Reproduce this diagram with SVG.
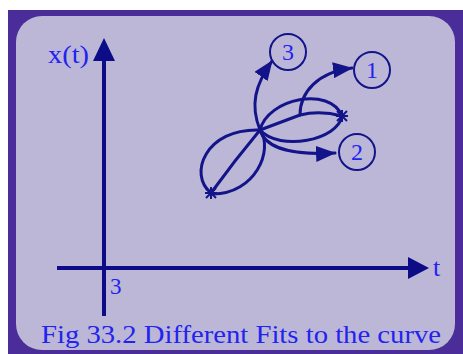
<svg xmlns="http://www.w3.org/2000/svg" width="463" height="354" viewBox="0 0 463 354">
<defs>
<style>
.ln{fill:none;stroke:#14148a;stroke-width:3;stroke-linecap:round}
.ax{fill:none;stroke:#0c0c86;stroke-width:4}
.ah{fill:#0c0c86}
.lbl{fill:#2323f0;font-family:"Liberation Serif",serif}
.nd{fill:none;stroke:#14148a;stroke-width:2}
.star{fill:none;stroke:#14148a;stroke-width:2}
</style>
<marker id="arr" viewBox="0 0 20 16" refX="19" refY="8" markerWidth="20" markerHeight="16" markerUnits="userSpaceOnUse" orient="auto">
<path d="M0,0 L20,8 L0,16 Z" fill="#14148a"/>
</marker>
</defs>
<rect x="8" y="10" width="455" height="344" fill="#4a2d99"/>
<rect x="16" y="16" width="439" height="334" rx="26" ry="26" fill="#bcb7d6"/>
<g id="axes">
<line class="ax" x1="104" y1="316" x2="104" y2="58"/>
<polygon class="ah" points="104,38 93,61 115,61"/>
<line class="ax" x1="57" y1="268" x2="410" y2="268"/>
<polygon class="ah" points="429,268 408,257 408,279"/>
<text class="lbl" x="48" y="63" font-size="25" textLength="41" lengthAdjust="spacingAndGlyphs">x(t)</text>
<text class="lbl" x="433" y="276" font-size="26">t</text>
<text class="lbl" x="110" y="294" font-size="23">3</text>
</g>
<g id="curves">
<path class="ln" d="M260,130 C268,98 330,86 342,116 C338,140 280,152 260,130 Z"/>
<path class="ln" d="M260,130 L300,115 Q320,110 342,116"/>
<path class="ln" d="M211,193 C188,175 205,128 260,130"/>
<path class="ln" d="M260,130 C274,150 255,194 213,194"/>
<path class="ln" d="M211,193 Q235,160 260,130"/>
<path class="star" d="M206,188 L216,198 M216,188 L206,198 M211,187 L211,199 M205,193 L217,193"/>
<path class="star" d="M337,111 L347,121 M347,111 L337,121 M342,110 L342,122 M336,116 L348,116"/>
</g>
<g id="connectors">
<path class="ln" d="M300,115 C300,92 318,72 352,68" marker-end="url(#arr)"/>
<path class="ln" d="M260,130 C250,105 255,85 272,61" marker-end="url(#arr)"/>
<path class="ln" d="M260,130 C266,150 295,155 335,153" marker-end="url(#arr)"/>
</g>
<g id="node3">
<circle class="nd" cx="288" cy="52" r="18"/>
<text class="lbl" x="288" y="60" font-size="24" text-anchor="middle">3</text>
</g>
<g id="node1">
<circle class="nd" cx="372" cy="70" r="18"/>
<text class="lbl" x="372" y="78" font-size="24" text-anchor="middle">1</text>
</g>
<g id="node2">
<circle class="nd" cx="357" cy="152" r="18"/>
<text class="lbl" x="357" y="160" font-size="24" text-anchor="middle">2</text>
</g>
<text class="lbl" x="41" y="343" font-size="26" textLength="400" lengthAdjust="spacingAndGlyphs">Fig 33.2 Different Fits to the curve</text>
</svg>
